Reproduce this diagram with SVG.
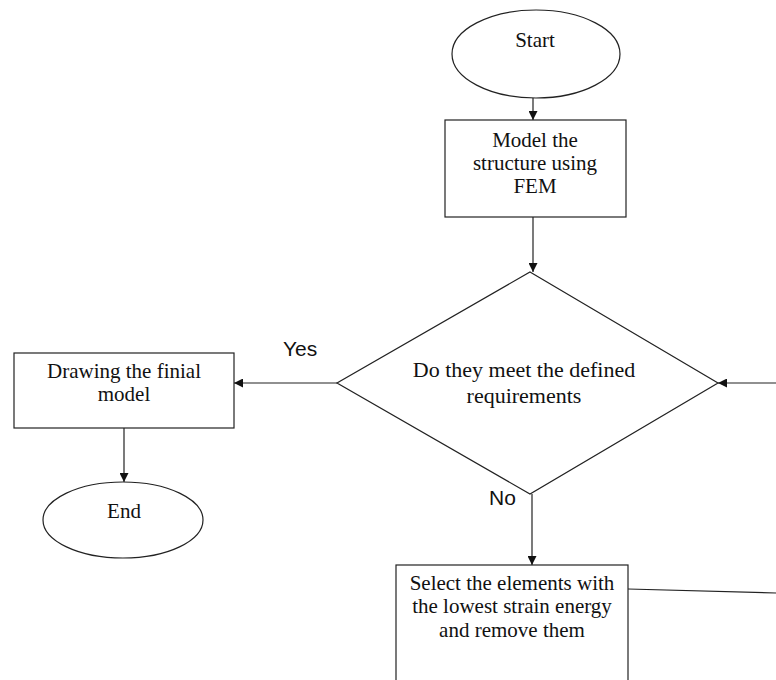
<svg xmlns="http://www.w3.org/2000/svg" width="776" height="680" viewBox="0 0 776 680">
  <style>
    .shape { fill: #ffffff; stroke: #222; stroke-width: 1.2; }
    .t { font-family: "Liberation Serif", "Times New Roman", serif; font-size: 21px; fill: #111; text-anchor: middle; }
    .td { font-size: 22px; }
    .lbl { font-family: "Liberation Sans", Arial, sans-serif; font-size: 21px; fill: #111; }
    .conn { stroke: #222; stroke-width: 1.2; fill: none; }
  </style>
  <defs>
    <marker id="arrow" viewBox="0 0 10 10" refX="10" refY="5" markerWidth="9" markerHeight="9" markerUnits="userSpaceOnUse" orient="auto">
      <path d="M0,0 L10,5 L0,10 z" fill="#111"/>
    </marker>
  </defs>
  <rect width="776" height="680" fill="#ffffff"/>

  <g id="connectors">
    <line class="conn" x1="533" y1="98" x2="533" y2="120" marker-end="url(#arrow)"/>
    <line class="conn" x1="533" y1="217" x2="533" y2="272" marker-end="url(#arrow)"/>
    <line class="conn" x1="337" y1="383" x2="234" y2="383" marker-end="url(#arrow)"/>
    <line class="conn" x1="124" y1="428" x2="124" y2="482" marker-end="url(#arrow)"/>
    <line class="conn" x1="532" y1="494" x2="532" y2="565" marker-end="url(#arrow)"/>
    <line class="conn" x1="628" y1="589" x2="776" y2="593"/>
    <line class="conn" x1="776" y1="383" x2="718" y2="383" marker-end="url(#arrow)"/>
  </g>

  <g id="start">
    <ellipse class="shape" cx="536" cy="54" rx="84" ry="44"/>
    <text class="t" x="535" y="47">Start</text>
  </g>

  <g id="model">
    <rect class="shape" x="445" y="120" width="181" height="97"/>
    <text class="t" x="535" y="147">Model the</text>
    <text class="t" x="535" y="170">structure using</text>
    <text class="t" x="535" y="193">FEM</text>
  </g>

  <g id="decision">
    <polygon class="shape" points="530,272 718,383 530,494 337,383"/>
    <text class="t td" x="524" y="377">Do they meet the defined</text>
    <text class="t td" x="524" y="403">requirements</text>
  </g>

  <g id="drawing">
    <rect class="shape" x="14" y="353" width="220" height="75"/>
    <text class="t" x="124" y="378">Drawing the finial</text>
    <text class="t" x="124" y="401">model</text>
  </g>

  <g id="end">
    <ellipse class="shape" cx="123" cy="520" rx="80" ry="38"/>
    <text class="t" x="124" y="518">End</text>
  </g>

  <g id="select">
    <rect class="shape" x="396" y="565" width="232" height="130"/>
    <text class="t" x="512" y="590">Select the elements with</text>
    <text class="t" x="512" y="613">the lowest strain energy</text>
    <text class="t" x="512" y="637">and remove them</text>
  </g>

  <g id="labels">
    <text class="lbl" x="283" y="356">Yes</text>
    <text class="lbl" x="489" y="505">No</text>
  </g>
</svg>
